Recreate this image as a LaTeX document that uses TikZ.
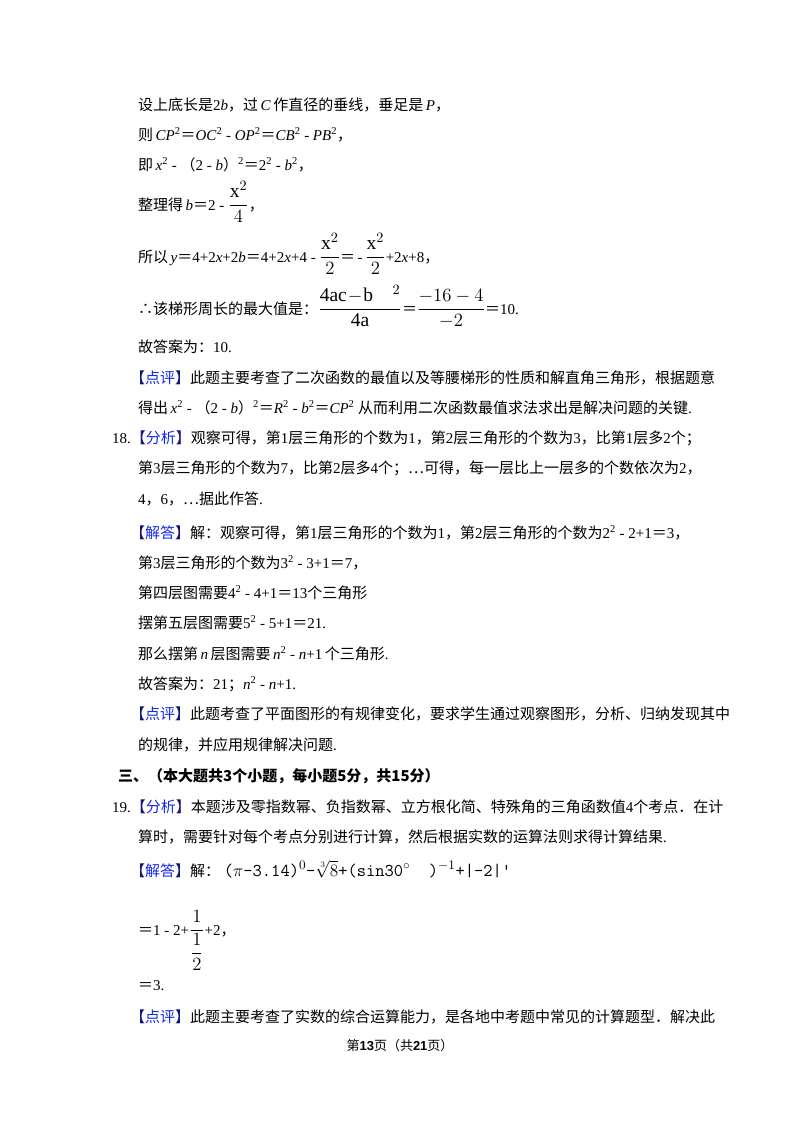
\documentclass[tikz,border=0pt]{standalone}
\usepackage{amsmath}
\usepackage{graphicx}
\usepackage{fontspec}
\setmainfont{Liberation Serif}
\setsansfont{Liberation Sans}
\newfontfamily\cjk{Noto Sans CJK SC}
\definecolor{tag}{RGB}{20,40,230}
\definecolor{brk}{RGB}{20,20,120}
\newcommand\zh[1]{{\cjk #1}}
\newcommand\I[1]{\textit{#1}}
\newcommand\sq{\textsuperscript{2}}
\newcommand\fr[2]{\raisebox{0pt}{\scalebox{1.3}{$\dfrac{#1}{#2}$}}}
\newcommand\tagc[1]{{\cjk\color{brk}【\textcolor{tag}{#1}】}}
\begin{document}
\begin{tikzpicture}[x=1pt,y=-1pt,
  ln/.style={anchor=base west,inner sep=0pt,font=\fontsize{15}{18}\selectfont}]
\useasboundingbox[fill=white] (0,0) rectangle (800,1132);
\node[ln] (l1) at (138,110) {\zh{设上底长是}2\I{b}\zh{，过}\,\I{C}\,\zh{作直径的垂线，垂足是}\,\I{P}\zh{，}};
\node[ln] (l2) at (138,140) {\zh{则}\,\I{CP}\sq\zh{＝}\I{OC}\sq\ -\ \I{OP}\sq\zh{＝}\I{CB}\sq\ -\ \I{PB}\sq\zh{，}};
\node[ln] (l3) at (138,170) {\zh{即}\,\I{x}\sq\ -\ \zh{（}2 - \I{b}\zh{）}\sq\zh{＝}2\sq\ -\ \I{b}\sq\zh{，}};
\node[ln] (l4) at (138,210) {\zh{整理得}\,\I{b}\zh{＝}2 - \fr{\mathrm{x}^{2}}{4}\zh{，}};
\node[ln] (l5) at (138,262) {\zh{所以}\,\I{y}\zh{＝}4+2\I{x}+2\I{b}\zh{＝}4+2\I{x}+4 - \fr{\mathrm{x}^{2}}{2}\zh{＝}\,-\,\fr{\mathrm{x}^{2}}{2}+2\I{x}+8\zh{，}};
\node[ln] (l6) at (138,314) {\zh{∴该梯形周长的最大值是：}\fr{\mathrm{4ac\!-\!b}\quad^{2}}{\mathrm{4a}}\zh{＝}\fr{-16-4}{-2}\zh{＝}10.};
\node[ln] (l7) at (138,352) {\zh{故答案为：}10.};
\node[ln] (l8) at (130,383) {\tagc{点评}\zh{此题主要考查了二次函数的最值以及等腰梯形的性质和解直角三角形，根据题意}};
\node[ln] (l9) at (138,413) {\zh{得出}\,\I{x}\sq\ -\ \zh{（}2 - \I{b}\zh{）}\sq\zh{＝}\I{R}\sq\ -\ \I{b}\sq\zh{＝}\I{CP}\sq\ \zh{从而利用二次函数最值求法求出是解决问题的关键}.};
\node[ln] (l10) at (112,443) {18.\tagc{分析}\zh{观察可得，第}1\zh{层三角形的个数为}1\zh{，第}2\zh{层三角形的个数为}3\zh{，比第}1\zh{层多}2\zh{个；}};
\node[ln] (l11) at (138,473) {\zh{第}3\zh{层三角形的个数为}7\zh{，比第}2\zh{层多}4\zh{个；…可得，每一层比上一层多的个数依次为}2\zh{，}};
\node[ln] (l12) at (138,504) {4\zh{，}6\zh{，…据此作答}.};
\node[ln] (l13) at (130,538) {\tagc{解答}\zh{解：观察可得，第}1\zh{层三角形的个数为}1\zh{，第}2\zh{层三角形的个数为}2\sq\ -\ 2+1\zh{＝}3\zh{，}};
\node[ln] (l14) at (138,568) {\zh{第}3\zh{层三角形的个数为}3\sq\ -\ 3+1\zh{＝}7\zh{，}};
\node[ln] (l15) at (138,598) {\zh{第四层图需要}4\sq\ -\ 4+1\zh{＝}13\zh{个三角形}};
\node[ln] (l16) at (138,628) {\zh{摆第五层图需要}5\sq\ -\ 5+1\zh{＝}21.};
\node[ln] (l17) at (138,659) {\zh{那么摆第}\,\I{n}\,\zh{层图需要}\,\I{n}\sq\ -\ \I{n}+1\,\zh{个三角形}.};
\node[ln] (l18) at (138,689) {\zh{故答案为：}21\zh{；}\I{n}\sq\ -\ \I{n}+1.};
\node[ln] (l19) at (130,719) {\tagc{点评}\zh{此题考查了平面图形的有规律变化，要求学生通过观察图形，分析、归纳发现其中}};
\node[ln] (l20) at (138,750) {\zh{的规律，并应用规律解决问题}.};
\node[ln] (l21) at (118,781) {\cjk\bfseries 三、（本大题共\textbf{3}个小题，每小题\textbf{5}分，共\textbf{15}分）};
\node[ln] (l22) at (112,812) {19.\tagc{分析}\zh{本题涉及零指数幂、负指数幂、立方根化简、特殊角的三角函数值}4\zh{个考点．在计}};
\node[ln] (l23) at (138,842) {\zh{算时，需要针对每个考点分别进行计算，然后根据实数的运算法则求得计算结果}.};
\node[ln] (l24) at (130,876) {\tagc{解答}\zh{解：}\ \scalebox{1.2}{\ttfamily ($\pi$-3.14)$^{0}$-$\sqrt[3]{8}$+(sin30$^{\circ}$\ \ )$^{-1}$+|-2|'}};
\node[ln] (l25) at (138,935) {\zh{＝}1 - 2+\scalebox{1.3}{$\dfrac{1}{\dfrac{1}{2}}$}+2\zh{，}};
\node[ln] (l26) at (138,990) {\zh{＝}3.};
\node[ln] (l27) at (130,1022) {\tagc{点评}\zh{此题主要考查了实数的综合运算能力，是各地中考题中常见的计算题型．解决此}};
\node[anchor=base,inner sep=0pt,font=\fontsize{13}{15}\selectfont] (ft) at (400,1050) {\zh{第}\textsf{\bfseries 13}\zh{页（共}\textsf{\bfseries 21}\zh{页）}};
\end{tikzpicture}
\end{document}
